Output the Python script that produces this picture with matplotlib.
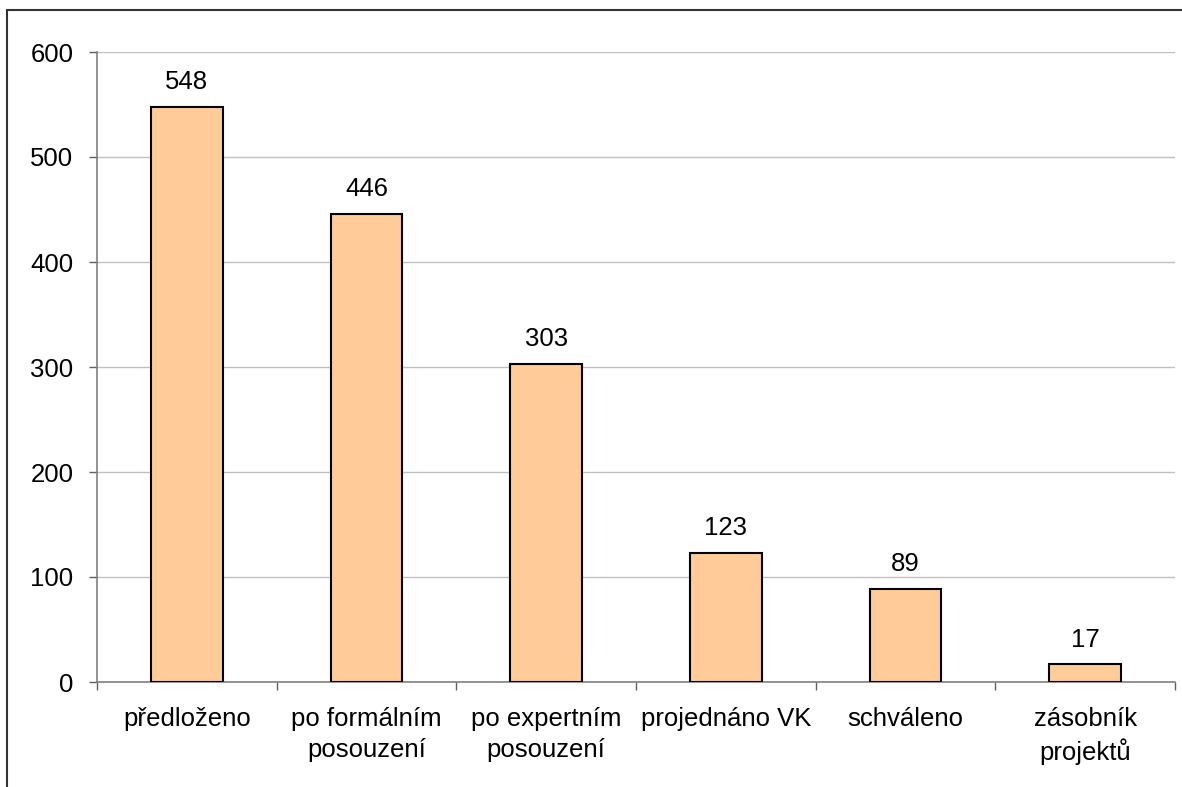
import matplotlib.pyplot as plt
from matplotlib.patches import Rectangle
import numpy as np

plt.rcParams['font.family'] = ['Liberation Sans', 'DejaVu Sans']

###
# data
categories = ['předloženo', 'po formálním\nposouzení', 'po expertním\nposouzení',
              'projednáno VK', 'schváleno', 'zásobník\nprojektů']
values = [548, 446, 303, 123, 89, 17]

W, H = 1182, 787
fs = 18.5
fig = plt.figure(figsize=(W / 100, H / 100), dpi=100)
ax = fig.add_axes([97 / W, 1 - 682 / H, (1175 - 97) / W, (682 - 52) / H])

ind = np.arange(len(categories))
bars = ax.bar(ind, values, 0.4, color='#FFCC99', edgecolor='black', linewidth=1.5, zorder=3)

for rect, v in zip(bars, values):
    ax.annotate(str(v), (rect.get_x() + rect.get_width() / 2, v),
                xytext=(0, 9), textcoords='offset points',
                ha='center', va='bottom', fontsize=fs)

ax.set_xlim(-0.5, len(categories) - 0.5)
ax.set_ylim(0, 600)
ax.set_yticks(range(0, 601, 100))
ax.yaxis.grid(True, color='#c0c0c0', linewidth=1, zorder=0)

ax.set_xticks(ind)
ax.set_xticklabels(categories, fontsize=fs, linespacing=1.36)
ax.set_xticks(np.arange(-0.5, len(categories)), minor=True)
ax.tick_params(axis='x', which='major', length=0, pad=18)
ax.tick_params(axis='x', which='minor', length=6, width=1, color='#606060', direction='out')
ax.tick_params(axis='y', length=6, width=1, color='#606060', pad=11, labelsize=fs)

for s in ['top', 'right']:
    ax.spines[s].set_visible(False)
for s in ['left', 'bottom']:
    ax.spines[s].set_color('#808080')
    ax.spines[s].set_linewidth(1.2)

# outer chart frame (runs off the image at right and bottom)
fig.add_artist(Rectangle((7 / W, -0.1), 1.2, 1.1 - 10 / H, transform=fig.transFigure,
                         fill=False, edgecolor='#333333', linewidth=1.5, clip_on=False))

fig.savefig('out.png', dpi=100)
